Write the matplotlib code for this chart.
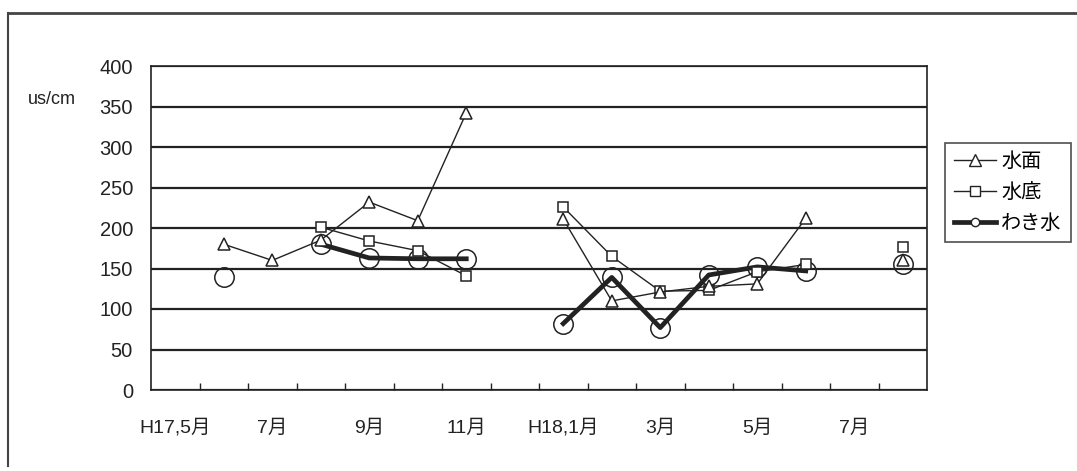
import numpy as np
import matplotlib
matplotlib.use("Agg")
import matplotlib.pyplot as plt
from matplotlib.lines import Line2D

plt.rcParams['font.family'] = ['Liberation Sans', 'Noto Sans CJK JP', 'DejaVu Sans']

# 月別カテゴリ (H17年5月 〜 H18年8月)
months = ["H17,5月", "6月", "7月", "8月", "9月", "10月", "11月", "12月",
          "H18,1月", "2月", "3月", "4月", "5月", "6月", "7月", "8月"]
nan = np.nan
suimen = [nan, 180, 160, 185, 232, 209, 342, nan,
          211, 110, 121, 128, 131, 212, nan, 160]
suitei = [nan, nan, nan, 201, 184, 172, 141, nan,
          226, 165, 122, 123, 146, 155, nan, 177]
wakimizu = [nan, 140, nan, 180, 163, 162, 162, nan,
            82, 139, 77, 142, 152, 147, nan, 155]
label_idx = [0, 2, 4, 6, 8, 10, 12, 14]
label_txt = ["H17,5月", "7月", "9月", "11月", "H18,1月", "3月", "5月", "7月"]

ink = "#222222"

fig = plt.figure(figsize=(10.77, 4.71), dpi=100)
ax = fig.add_axes([151 / 1077, 81 / 471, 776 / 1077, 324 / 471])

x = np.arange(len(months))

ax.plot(x, wakimizu, color=ink, lw=3.4, marker="o", ms=14, mfc="none",
        mec=ink, mew=1.1, zorder=3)
ax.plot(x, suitei, color=ink, lw=1.0, marker="s", ms=7, mfc="white",
        mec=ink, mew=1.1, zorder=4)
ax.plot(x, suimen, color=ink, lw=1.0, marker="^", ms=8, mfc="white",
        mec=ink, mew=1.1, zorder=4)

ax.set_xlim(-0.5, len(months) - 0.5)
ax.set_ylim(0, 400)
ax.set_yticks(np.arange(0, 401, 50))
ax.tick_params(axis="y", length=0, pad=13, labelsize=14.5, colors=ink)
ax.yaxis.grid(True, color=ink, lw=1.6)
ax.set_axisbelow(True)

ax.set_xticks(label_idx)
ax.set_xticklabels(label_txt)
ax.set_xticks(np.arange(0.5, len(months) - 1, 1.0), minor=True)
ax.tick_params(axis="x", which="major", length=0, pad=21, labelsize=14, colors=ink)
ax.tick_params(axis="x", which="minor", direction="in", length=5, width=1, color=ink)

for s in ax.spines.values():
    s.set_color(ink)
    s.set_linewidth(1.2)

fig.text(52 / 1077, 1 - 100 / 471, "us/cm", fontsize=13, color=ink,
         ha="center", va="center")

handles = [
    Line2D([], [], color=ink, lw=1.0, marker="^", ms=8, mfc="white", mec=ink),
    Line2D([], [], color=ink, lw=1.0, marker="s", ms=7, mfc="white", mec=ink),
    Line2D([], [], color=ink, lw=3.4, marker="o", ms=6, mfc="white", mec=ink),
]
leg = fig.legend(handles, ["水面", "水底", "わき水"], loc="upper left",
                 bbox_to_anchor=(945 / 1077, 1 - 143 / 471),
                 frameon=True, fancybox=False, fontsize=14.5,
                 handlelength=2.1, handletextpad=0.25, borderpad=0.45,
                 labelspacing=0.6, borderaxespad=0)
leg.get_frame().set_edgecolor(ink)
leg.get_frame().set_linewidth(1.2)

# 外枠
fig.add_artist(Line2D([8 / 1077, 8 / 1077], [0.01, 1 - 13 / 471],
                      color="#444444", lw=1.5))
fig.add_artist(Line2D([8 / 1077, 1.0], [1 - 13 / 471, 1 - 13 / 471],
                      color="#444444", lw=2.0))

fig.savefig("out.png", dpi=100)
